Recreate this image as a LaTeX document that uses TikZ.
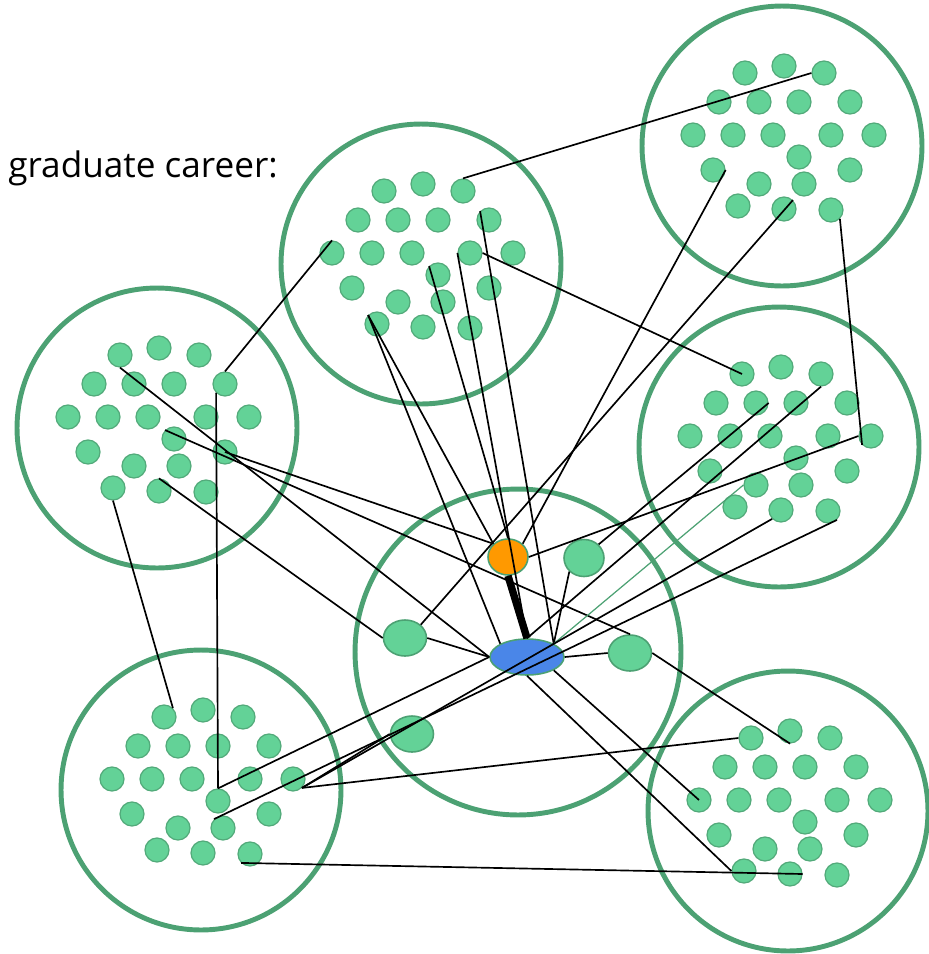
\documentclass[tikz,border=0pt]{standalone}
\usepackage{fontspec}
\setmainfont{Open Sans}
\usepackage{tikz}
\usetikzlibrary{shapes.geometric}
\definecolor{ringGreen}{RGB}{76,161,115}
\definecolor{dotGreen}{RGB}{99,210,151}
\definecolor{edgeGreen}{RGB}{82,170,122}
\definecolor{hubOrange}{RGB}{255,153,0}
\definecolor{hubBlue}{RGB}{74,134,232}
%% Twenty dots placed round the centre of one cluster.
\newcommand{\dotCluster}[1]{%%
  \foreach \dotName/\dx/\dy in {a1/-37/-73,a2/2/-80,a3/42/-73,%%
      b1/-63/-44,b2/-23/-44,b3/17/-44,b4/68/-44,%%
      c1/-89/-11,c2/-49/-11,c3/-9/-11,c4/49/-11,c5/92/-11,%%
      d1/-69/24,d2/17/11,d3/68/24,e1/-23/38,e2/22/38,%%
      f1/-44/60,f2/2/63,f3/49/64}{%%
    \node[dotStyle] (#1-\dotName) at ([shift={(\dx,\dy)}]#1) {};
  }%%
}

\begin{document}
\begin{tikzpicture}[%%
  x=0.02cm,y=-0.02cm,%%
  ringStyle/.style={circle,draw=ringGreen,line width=2.8pt,inner sep=0pt},%%
  dotStyle/.style={circle,fill=dotGreen,draw=edgeGreen,line width=0.7pt,%%
    minimum size=0.48cm,inner sep=0pt},%%
  hubStyle/.style={ellipse,draw=ringGreen,line width=0.9pt,inner sep=0pt,%%
    minimum width=0.86cm,minimum height=0.72cm,fill=dotGreen},%%
  linkStyle/.style={-,black,line width=0.95pt},%%
  heavyStyle/.style={-,black,line width=4.2pt},%%
  thinGreenStyle/.style={-,ringGreen,line width=0.7pt}%%
]
%%
%%
\pgfmathsetmacro{\ringSize}{5.6}  %% Diameter of each outer cluster.
\pgfmathsetmacro{\midSize}{6.52}  %% Diameter of the middle cluster.
\useasboundingbox (0,0) rectangle (929,954);
%%
%% The seven rings.
\node[ringStyle,minimum size=\ringSize cm] (tm) at (421,264) {};
\node[ringStyle,minimum size=\ringSize cm] (tr) at (782,146) {};
\node[ringStyle,minimum size=\ringSize cm] (lf) at (157,428) {};
\node[ringStyle,minimum size=\ringSize cm] (rm) at (779,447) {};
\node[ringStyle,minimum size=\midSize cm] (mid) at (518,652) {};
\node[ringStyle,minimum size=\ringSize cm] (bl) at (201,790) {};
\node[ringStyle,minimum size=\ringSize cm] (br) at (788,811) {};
%%
%% The dots of the outer clusters.
\dotCluster{tm}
\dotCluster{tr}
\dotCluster{lf}
\dotCluster{rm}
\dotCluster{bl}
\dotCluster{br}
%%
%% The middle cluster.
\node[hubStyle,fill=hubOrange,minimum width=0.8cm] (orangeHub) at (508,557) {};
\node[hubStyle,fill=hubBlue,minimum width=1.48cm] (blueHub) at (527,657) {};
\node[hubStyle,minimum width=0.8cm,minimum height=0.74cm] (greenNorth) at (584,558) {};
\node[hubStyle] (greenWest) at (405,638) {};
\node[hubStyle] (greenEast) at (630,653) {};
\node[hubStyle] (greenSouth) at (412,734) {};
%%
\node[anchor=base west,inner sep=0pt,font=\fontsize{20}{22}\selectfont] (caption) at (8,177) {graduate career:};
%%
%% The links.
\draw[linkStyle] (lf-b4.north) -- (tm-c1.north);
\draw[linkStyle] (lf-b4.south west) -- (bl-d2.north);
\draw[linkStyle] (lf-a1.south) -- (blueHub.west);
\draw[linkStyle] (lf-d3.center) -- (orangeHub.north west);
\draw[linkStyle] (lf-d2.north west) -- (greenEast.north);
\draw[linkStyle] (lf-f2.north) -- (greenWest.west);
\draw[linkStyle] (lf-f1.south) -- (bl-a1.north east);
\draw[linkStyle] (tm-a3.north) -- (tr-a3.west);
\draw[linkStyle] (tm-c4.east) -- (rm-a1.center);
\draw[linkStyle] (tm-f1.north west) -- (blueHub.north west);
\draw[linkStyle] (tm-f1.north west) -- (orangeHub.north west);
\draw[linkStyle] (tm-d2.north west) -- (orangeHub.north);
\draw[linkStyle] (tm-c4.west) -- (blueHub.north);
\draw[linkStyle] (tm-b4.north west) -- (blueHub.north east);
\draw[linkStyle] (tr-d1.east) -- (orangeHub.north east);
\draw[linkStyle] (tr-f2.north east) -- (greenWest.north east);
\draw[linkStyle] (tr-f3.south east) -- (rm-c5.south west);
\draw[linkStyle] (rm-c5.west) -- (orangeHub.east);
\draw[linkStyle] (rm-a3.south) -- (blueHub.north);
\draw[linkStyle] (rm-b2.east) -- (greenNorth.north east);
\draw[linkStyle] (greenNorth.south west) -- (blueHub.north east);
\draw[thinGreenStyle] (rm-e1.west) -- (blueHub.north east);
\draw[linkStyle] (bl-c5.south east) -- (rm-f2.south west);
\draw[linkStyle] (bl-e2.north west) -- (rm-f3.south east);
\draw[linkStyle] (bl-c5.south east) -- (greenSouth.west);
\draw[linkStyle] (bl-c5.south east) -- (br-a1.west);
\draw[linkStyle] (bl-d2.north) -- (blueHub.west);
\draw[linkStyle] (bl-f3.south west) -- (br-f2.east);
\draw[linkStyle] (blueHub.south east) -- (br-c1.center);
\draw[linkStyle] (blueHub.south) -- (br-f1.west);
\draw[linkStyle] (blueHub.east) -- (greenEast.west);
\draw[linkStyle] (greenEast.east) -- (br-a2.south);
\draw[linkStyle] (greenWest.east) -- (blueHub.west);
\draw[heavyStyle] (orangeHub.south) -- (blueHub.north);
\end{tikzpicture}
\end{document}
